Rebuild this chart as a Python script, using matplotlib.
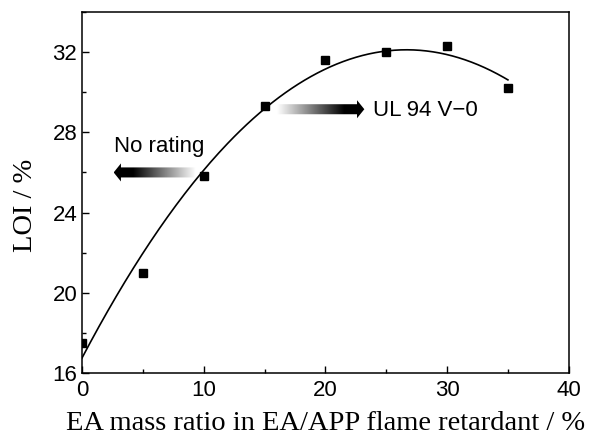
import numpy as np
import matplotlib
matplotlib.use("Agg")
import matplotlib.pyplot as plt
from matplotlib.patches import FancyArrow
from matplotlib.ticker import MultipleLocator

# EA mass ratio (%) and measured LOI (%)
ea_ratio = [0, 5, 10, 15, 20, 25, 30, 35]
loi = [17.5, 21.0, 25.8, 29.3, 31.6, 32.0, 32.3, 30.2]

x_ticks = [0, 10, 20, 30, 40]
y_ticks = [16, 20, 24, 28, 32]

plt.rcParams["font.family"] = ["Liberation Sans", "DejaVu Sans"]

fig = plt.figure(figsize=(5.9, 4.41), dpi=100)
ax = fig.add_axes([0.139, 0.154, 0.825, 0.819])

# polynomial fit through the measured points
coef = np.polyfit(ea_ratio, loi, 2)
xs = np.linspace(0, 35, 200)
ax.plot(xs, np.polyval(coef, xs), color="black", lw=1.2, zorder=3)
ax.plot(ea_ratio, loi, "s", color="black", ms=6, zorder=4)


def gradient_arrow(x0, x1, y):
    dx = x1 - x0
    arrow = FancyArrow(x0, y, dx, 0, width=0.5, head_width=0.9,
                       head_length=0.6, length_includes_head=True,
                       facecolor="none", edgecolor="none")
    ax.add_patch(arrow)
    ramp = np.clip(np.linspace(1.0, -0.3, 256), 0, 1)
    if x1 < x0:
        ramp = ramp[::-1]
    lo, hi = min(x0, x1), max(x0, x1)
    im = ax.imshow(ramp[None, :], cmap="gray", vmin=0, vmax=1,
                   extent=[lo, hi, y - 0.5, y + 0.5], aspect="auto",
                   interpolation="bilinear", zorder=2)
    im.set_clip_path(arrow)


gradient_arrow(9.3, 2.6, 26.0)
gradient_arrow(16.0, 23.2, 29.15)

ax.text(2.6, 27.3, "No rating", fontsize=16, va="center", ha="left")
ax.text(23.9, 29.1, "UL 94 V\u22120", fontsize=16, va="center", ha="left")

ax.set_xlim(0, 40)
ax.set_ylim(16, 34)
ax.set_xticks(x_ticks)
ax.set_yticks(y_ticks)
ax.xaxis.set_minor_locator(MultipleLocator(5))
ax.yaxis.set_minor_locator(MultipleLocator(2))
ax.tick_params(which="both", direction="in", top=False, right=False,
               labelsize=16, width=1.0)
ax.tick_params(axis="x", pad=5)
ax.tick_params(which="major", length=5)
ax.tick_params(which="minor", length=3)
for s in ax.spines.values():
    s.set_linewidth(1.1)

ax.set_xlabel("EA mass ratio in EA/APP flame retardant / %",
              family="Liberation Serif", fontsize=20.5)
ax.set_ylabel("LOI / %", family="Liberation Serif", fontsize=20.5)
ax.xaxis.set_label_coords(0.5, -0.105)
ax.yaxis.set_label_coords(-0.09, 0.465)

fig.savefig("out.png", dpi=100)
